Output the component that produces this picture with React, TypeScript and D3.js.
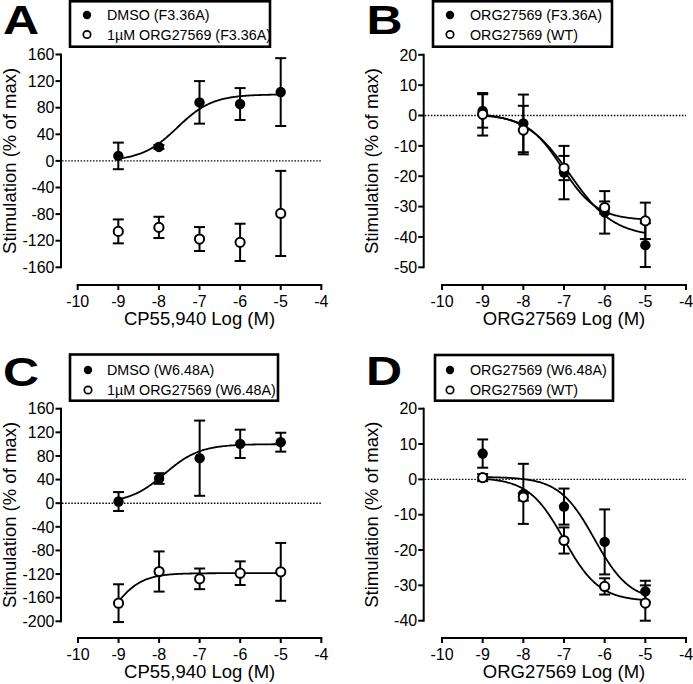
import React from 'react';
import * as d3 from 'd3';

// ---------- data ----------
const doses = [-9, -8, -7, -6, -5];
const xTicks = [-10, -9, -8, -7, -6, -5, -4];

// Panel A
const aLegend = ['DMSO (F3.36A)', '1µM ORG27569 (F3.36A)'];
const aYTicks = [160, 120, 80, 40, 0, -40, -80, -120, -160];
const aDmsoMean = [7.5, 21, 88, 85.5, 103.5];
const aDmsoErr = [20, 3, 32, 24, 51];
const aDmsoFit = [0, 100, -7.55, 1]; // [low-x plateau, high-x plateau, logEC50, hill]
const aOrgMean = [-106, -100, -117.5, -122.5, -79];
const aOrgErr = [18, 16, 18, 28, 64];

// Panel B
const bLegend = ['ORG27569 (F3.36A)', 'ORG27569 (WT)'];
const bYTicks = [20, 10, 0, -10, -20, -30, -40, -50];
const bF336Mean = [1.5, -2.6, -18.8, -31.9, -42.7];
const bF336Err = [5.5, 9.5, 8.8, 7, 7.2];
const bF336Fit = [1, -40, -6.85, 0.8];
const bWTMean = [0.4, -4.8, -17.3, -30.3, -34.7];
const bWTErr = [7, 8, 4, 2, 6];
const bWTFit = [0.3, -34.5, -7.05, 1];

// Panel C
const cLegend = ['DMSO (W6.48A)', '1µM ORG27569 (W6.48A)'];
const cYTicks = [160, 120, 80, 40, 0, -40, -80, -120, -160, -200];
const cDmsoMean = [2.8, 41.8, 76.2, 100.5, 103.3];
const cDmsoErr = [16, 9, 63.7, 24, 16];
const cDmsoFit = [0, 100, -7.86, 1];
const cOrgMean = [-169.3, -115.7, -128.1, -118.5, -116.3];
const cOrgErr = [32, 34, 17.5, 20, 49];
const cOrgFit = [-250, -118.5, -9.2, 1.2];

// Panel D
const dLegend = ['ORG27569 (W6.48A)', 'ORG27569 (WT)'];
const dYTicks = [20, 10, 0, -10, -20, -30, -40];
const dW648Mean = [7.3, -4.1, -7.7, -17.7, -31.7];
const dW648Err = [4, 8.5, 5.1, 9.2, 3];
const dW648Fit = [0.7, -34.5, -6.25, 1];
const dWTMean = [0.5, -5, -17.3, -30.3, -35];
const dWTErr = [1, 1, 3.7, 2.3, 5];
const dWTFit = [0.5, -34.5, -7.0, 1];

const xTitleCP = 'CP55,940 Log (M)';
const xTitleORG = 'ORG27569 Log (M)';
const yTitle = 'Stimulation (% of max)';

// ---------- layout ----------
type Series = { mean: number[]; err: number[]; filled: boolean; fit?: number[] };
type Panel = {
  letter: string; letterX: number; letterY: number;
  legend: string[]; lg: { x0: number; y0: number; x1: number; y1: number; mx: number; tx: number; rows: number[] };
  yTicks: number[]; xTitle: string;
  yAxisX: number; yTop: number; yBot: number; xAxisY: number; xL: number; xR: number;
  series: Series[];
};

const panels: Panel[] = [
  {
    letter: 'A', letterX: 3, letterY: 34, legend: aLegend,
    lg: { x0: 70, y0: 1.3, x1: 270, y1: 46.7, mx: 87, tx: 107, rows: [15, 34.5] },
    yTicks: aYTicks, xTitle: xTitleCP,
    yAxisX: 61, yTop: 54.5, yBot: 267.3, xAxisY: 285, xL: 77.7, xR: 321.3,
    series: [
      { mean: aDmsoMean, err: aDmsoErr, filled: true, fit: aDmsoFit },
      { mean: aOrgMean, err: aOrgErr, filled: false },
    ],
  },
  {
    letter: 'B', letterX: 366.5, letterY: 34, legend: bLegend,
    lg: { x0: 433, y0: 1.3, x1: 612, y1: 46.7, mx: 450, tx: 470, rows: [15, 34.5] },
    yTicks: bYTicks, xTitle: xTitleORG,
    yAxisX: 423.7, yTop: 54.8, yBot: 267.3, xAxisY: 285, xL: 442, xR: 686,
    series: [
      { mean: bF336Mean, err: bF336Err, filled: true, fit: bF336Fit },
      { mean: bWTMean, err: bWTErr, filled: false, fit: bWTFit },
    ],
  },
  {
    letter: 'C', letterX: 3, letterY: 386, legend: cLegend,
    lg: { x0: 70, y0: 354.5, x1: 278, y1: 400.7, mx: 88, tx: 107, rows: [370, 390] },
    yTicks: cYTicks, xTitle: xTitleCP,
    yAxisX: 61, yTop: 408.7, yBot: 621.3, xAxisY: 638, xL: 78, xR: 321.3,
    series: [
      { mean: cDmsoMean, err: cDmsoErr, filled: true, fit: cDmsoFit },
      { mean: cOrgMean, err: cOrgErr, filled: false, fit: cOrgFit },
    ],
  },
  {
    letter: 'D', letterX: 366, letterY: 385, legend: dLegend,
    lg: { x0: 435, y0: 355, x1: 613, y1: 400.7, mx: 450, tx: 470, rows: [370, 390] },
    yTicks: dYTicks, xTitle: xTitleORG,
    yAxisX: 423.7, yTop: 408.7, yBot: 620.7, xAxisY: 638, xL: 442, xR: 686,
    series: [
      { mean: dW648Mean, err: dW648Err, filled: true, fit: dW648Fit },
      { mean: dWTMean, err: dWTErr, filled: false, fit: dWTFit },
    ],
  },
];

const FONT = 'Liberation Sans, Arial, Helvetica, sans-serif';

function logistic(fit: number[], x: number) {
  const [lo, hi, e, h] = fit;
  return lo + (hi - lo) / (1 + Math.pow(10, (e - x) * h));
}

function PanelView({ p }: { p: Panel }) {
  const yMax = d3.max(p.yTicks) as number;
  const yMin = d3.min(p.yTicks) as number;
  const y = d3.scaleLinear().domain([yMin, yMax]).range([p.yBot, p.yTop]);
  const x = d3.scaleLinear().domain([-10, -4]).range([p.xL, p.xR]);
  const xs = d3.range(-9, -4.999, 0.02);
  const cap = 5.5;
  const yMid = (p.yTop + p.yBot) / 2;
  const xMid = (p.xL + p.xR) / 2;

  return (
    <g>
      {/* panel letter */}
      <text
        x={0} y={0} fontFamily={FONT} fontWeight="bold" fontSize={40}
        transform={`translate(${p.letterX},${p.letterY}) scale(1.25,1)`}
      >{p.letter}</text>

      {/* legend */}
      <rect x={p.lg.x0} y={p.lg.y0} width={p.lg.x1 - p.lg.x0} height={p.lg.y1 - p.lg.y0}
        fill="#fff" stroke="#000" strokeWidth={2.6} />
      {p.legend.map((t, i) => (
        <g key={t}>
          <circle cx={p.lg.mx} cy={p.lg.rows[i]} r={i === 0 ? 4.2 : 3.7}
            fill={i === 0 ? '#000' : '#fff'} stroke="#000" strokeWidth={i === 0 ? 0 : 1.7} />
          <text x={p.lg.tx} y={p.lg.rows[i]} dy="0.36em" fontFamily={FONT} fontSize={14.3}>{t}</text>
        </g>
      ))}

      {/* y axis */}
      <line x1={p.yAxisX} x2={p.yAxisX} y1={y(yMax) - 1} y2={y(yMin) + 1} stroke="#000" strokeWidth={2} />
      {p.yTicks.map((t) => (
        <g key={t}>
          <line x1={p.yAxisX - 5.5} x2={p.yAxisX} y1={y(t)} y2={y(t)} stroke="#000" strokeWidth={2} />
          <text x={p.yAxisX - 6.5} y={y(t)} dy="0.36em" textAnchor="end" fontFamily={FONT} fontSize={16}>{t}</text>
        </g>
      ))}
      <text transform={`translate(${p.yAxisX - 45.5},${yMid}) rotate(-90)`} textAnchor="middle"
        fontFamily={FONT} fontSize={18.5}>{yTitle}</text>

      {/* x axis */}
      <line x1={p.xL - 1} x2={p.xR + 1} y1={p.xAxisY} y2={p.xAxisY} stroke="#000" strokeWidth={2} />
      {xTicks.map((t) => (
        <g key={t}>
          <line x1={x(t)} x2={x(t)} y1={p.xAxisY} y2={p.xAxisY + 5} stroke="#000" strokeWidth={2} />
          <text x={x(t)} y={p.xAxisY + 21.5} textAnchor="middle" fontFamily={FONT} fontSize={16}>{t}</text>
        </g>
      ))}
      <text x={xMid} y={p.xAxisY + 40} textAnchor="middle" fontFamily={FONT} fontSize={18.5}>{p.xTitle}</text>

      {/* zero reference line */}
      <line x1={p.yAxisX + 1} x2={p.xR} y1={y(0)} y2={y(0)} stroke="#000" strokeWidth={1.4} strokeDasharray="1.5,1.6" />

      {/* fitted curves */}
      {p.series.map((s, si) =>
        s.fit ? (
          <path key={'c' + si}
            d={d3.line<number>().x((d) => x(d)).y((d) => y(logistic(s.fit as number[], d)))(xs) || ''}
            fill="none" stroke="#000" strokeWidth={1.8} />
        ) : null
      )}

      {/* error bars */}
      {p.series.map((s, si) =>
        doses.map((d, i) => (
          <g key={'e' + si + '-' + i} stroke="#000" strokeWidth={2}>
            <line x1={x(d)} x2={x(d)} y1={y(s.mean[i] + s.err[i])} y2={y(s.mean[i] - s.err[i])} />
            <line x1={x(d) - cap} x2={x(d) + cap} y1={y(s.mean[i] + s.err[i])} y2={y(s.mean[i] + s.err[i])} />
            <line x1={x(d) - cap} x2={x(d) + cap} y1={y(s.mean[i] - s.err[i])} y2={y(s.mean[i] - s.err[i])} />
          </g>
        ))
      )}

      {/* markers */}
      {p.series.map((s, si) =>
        doses.map((d, i) => (
          <circle key={'m' + si + '-' + i} cx={x(d)} cy={y(s.mean[i])}
            r={s.filled ? 5.2 : 4.6}
            fill={s.filled ? '#000' : '#fff'} stroke="#000" strokeWidth={s.filled ? 0 : 2} />
        ))
      )}
    </g>
  );
}

export default function App() {
  return (
    <svg width={693} height={684} viewBox="0 0 693 684"
      style={{ position: 'absolute', left: 0, top: 0, background: '#fff' }}>
      <rect x={0} y={0} width={693} height={684} fill="#fff" />
      {panels.map((p) => <PanelView key={p.letter} p={p} />)}
    </svg>
  );
}
